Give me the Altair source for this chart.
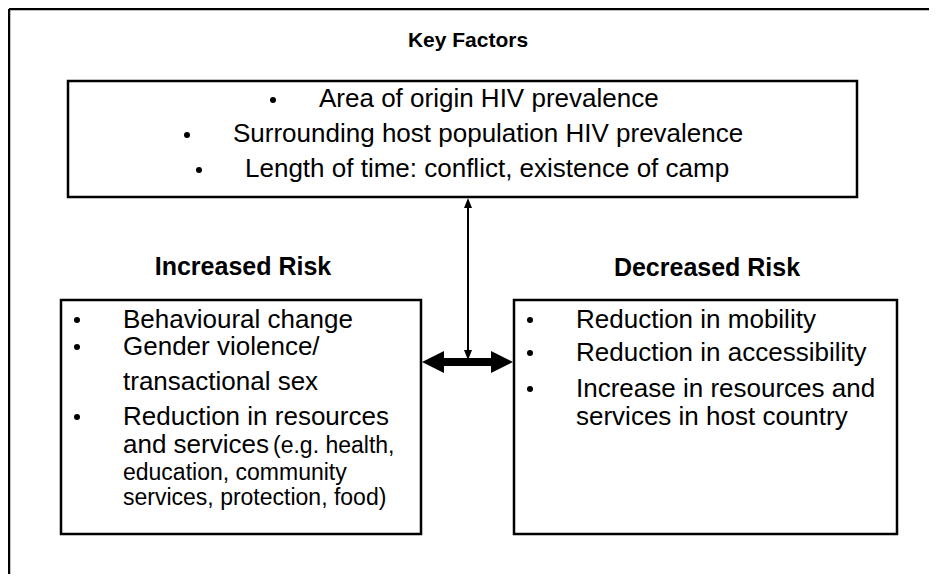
import altair as alt
import pandas as pd

# ---------------- content ----------------
TITLES = ["Key Factors", "Increased Risk", "Decreased Risk"]
KEY_FACTORS = [
    "Area of origin HIV prevalence",
    "Surrounding host population HIV prevalence",
    "Length of time: conflict, existence of camp",
]
INCREASED_LINES = [
    "Behavioural change",
    "Gender violence/",
    "transactional sex",
    "Reduction in resources",
    "and services",
    "(e.g. health,",
    "education,  community",
    "services, protection, food)",
]
DECREASED_LINES = [
    "Reduction in mobility",
    "Reduction in accessibility",
    "Increase in resources and",
    "services in host country",
]

# ---------------- layout (pixel space of the figure) ----------------
W, H = 937, 582
VIEW_W, VIEW_H = W - 16, H - 16          # keep page free of scrollbars
X_MAX, Y_MAX = 8 + VIEW_W, 8 + VIEW_H

TITLE_X = [468, 243, 707]
TITLE_Y = [47, 275, 276]
TITLE_SIZE = [21, 25, 25]

KEY_X = [319, 233, 245]
KEY_Y = [107, 142, 177]
KEY_SIZE = 26

INC_X = [123, 123, 123, 123, 123, 273, 123, 123]
INC_Y = [328, 355, 390, 425, 453, 453, 480, 505]
INC_SIZE = [26, 26, 26, 26, 26, 23, 23, 23]
INC_BULLETS = [0, 1, 3]

DEC_X = [576, 576, 576, 576]
DEC_Y = [328, 361, 397, 425]
DEC_SIZE = [26, 26, 26, 26]
DEC_BULLETS = [0, 1, 2]

BULLET_GAP = 46
BOXES = [  # x, x2, y, y2
    (68, 857, 81, 197),
    (61, 421, 300, 534),
    (514, 897, 300, 534),
]
FONT = "Liberation Sans"

# ---------------- tables ----------------
text_rows = []
for t, x, y in zip(KEY_FACTORS, KEY_X, KEY_Y):
    text_rows.append(dict(x=x, y=y, t=t, s=KEY_SIZE))
for t, x, y, s in zip(INCREASED_LINES, INC_X, INC_Y, INC_SIZE):
    text_rows.append(dict(x=x, y=y, t=t, s=s))
for t, x, y, s in zip(DECREASED_LINES, DEC_X, DEC_Y, DEC_SIZE):
    text_rows.append(dict(x=x, y=y, t=t, s=s))
body = pd.DataFrame(text_rows)

titles = pd.DataFrame(dict(x=TITLE_X, y=TITLE_Y, t=TITLES, s=TITLE_SIZE))

bullet_rows = [dict(x=x - BULLET_GAP, y=y - 7) for x, y in zip(KEY_X, KEY_Y)]
bullet_rows += [dict(x=INC_X[i] - BULLET_GAP, y=INC_Y[i] - 8) for i in INC_BULLETS]
bullet_rows += [dict(x=DEC_X[i] - BULLET_GAP, y=DEC_Y[i] - 8) for i in DEC_BULLETS]
bullets = pd.DataFrame(bullet_rows)

boxes = pd.DataFrame(BOXES, columns=["x", "x2", "y", "y2"])

mid_x = (BOXES[1][1] + BOXES[2][0]) / 2 + 0.5
arrow_y = 362
rules = pd.DataFrame([
    dict(x=9, x2=X_MAX, y=9, y2=9, w=2.5),                 # outer frame top
    dict(x=9, x2=9, y=9, y2=Y_MAX, w=2.5),                 # outer frame left
    dict(x=mid_x, x2=mid_x, y=BOXES[0][3] + 4, y2=arrow_y - 6, w=2),  # thin vertical
    dict(x=BOXES[1][1] + 20, x2=BOXES[2][0] - 20, y=arrow_y, y2=arrow_y, w=8),
])

heads = pd.DataFrame([
    dict(x=mid_x, y=BOXES[0][3] + 6, shape="M-0.8,1L0,-1L0.8,1Z", size=100),
    dict(x=mid_x, y=arrow_y - 7, shape="M-0.8,-1L0,1L0.8,-1Z", size=100),
    dict(x=BOXES[1][1] + 12, y=arrow_y, shape="M1,-1L-1,0L1,1Z", size=484),
    dict(x=BOXES[2][0] - 12, y=arrow_y, shape="M-1,-1L1,0L-1,1Z", size=484),
])

# ---------------- encodings ----------------
xs = alt.Scale(domain=[8, X_MAX], nice=False, zero=False)
ys = alt.Scale(domain=[8, Y_MAX], nice=False, zero=False, reverse=True)
X = lambda f="x": alt.X(f"{f}:Q", scale=xs, axis=None)
Y = lambda f="y": alt.Y(f"{f}:Q", scale=ys, axis=None)

frame = alt.Chart(rules).mark_rule(color="black", strokeCap="butt").encode(
    x=X(), x2="x2:Q", y=Y(), y2="y2:Q",
    strokeWidth=alt.StrokeWidth("w:Q", scale=None),
)
box_layer = alt.Chart(boxes).mark_rect(fill="white", stroke="black", strokeWidth=2.5).encode(
    x=X(), x2="x2:Q", y=Y(), y2="y2:Q"
)
head_layer = alt.Chart(heads).mark_point(filled=True, color="black", opacity=1, strokeWidth=0).encode(
    x=X(), y=Y(),
    shape=alt.Shape("shape:N", scale=None),
    size=alt.Size("size:Q", scale=None),
)
bullet_layer = alt.Chart(bullets).mark_circle(color="black", size=36, opacity=1).encode(
    x=X(), y=Y()
)
body_layer = alt.Chart(body).mark_text(
    align="left", baseline="alphabetic", font=FONT, color="black", lineHeight=26
).encode(x=X(), y=Y(), text="t:N", size=alt.Size("s:Q", scale=None))
title_layer = alt.Chart(titles).mark_text(
    align="center", baseline="alphabetic", font=FONT, fontWeight="bold", color="black"
).encode(x=X(), y=Y(), text="t:N", size=alt.Size("s:Q", scale=None))

chart = alt.layer(
    box_layer, frame, head_layer, bullet_layer, body_layer, title_layer
).properties(
    width=VIEW_W, height=VIEW_H,
    autosize=alt.AutoSizeParams(type="none"),
    padding=0, background="white",
).configure_view(strokeWidth=0)

chart.save("out.html", embed_options={"renderer": "svg", "actions": False})
